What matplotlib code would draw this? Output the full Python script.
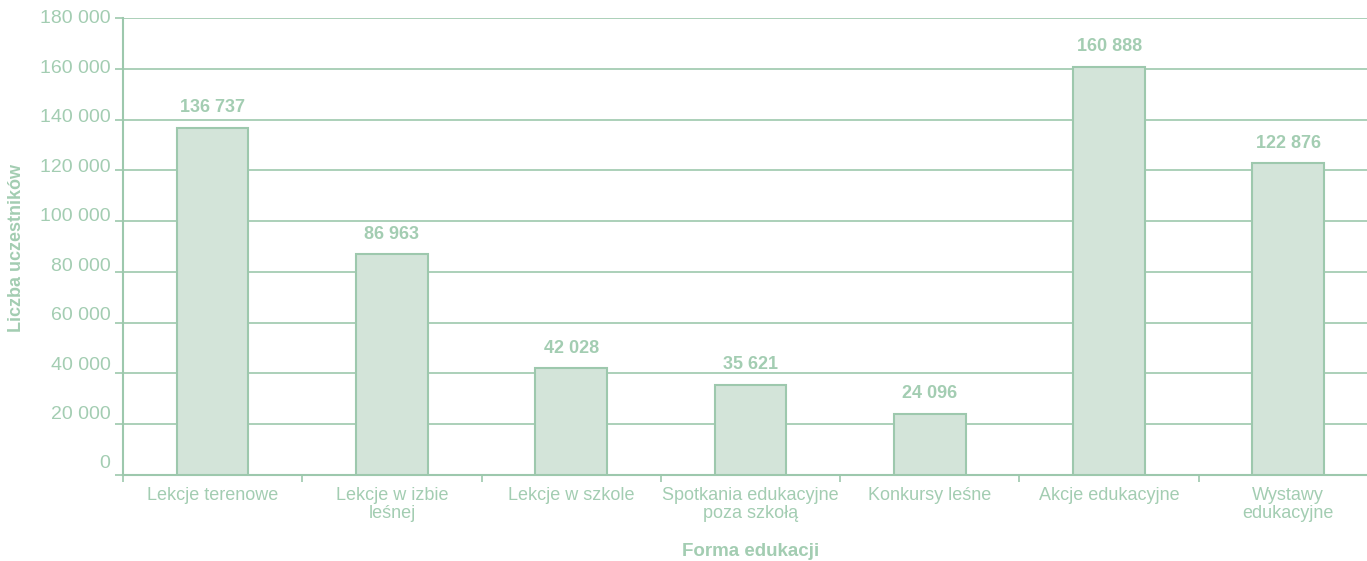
import matplotlib.pyplot as plt
import matplotlib.transforms as mtransforms
import numpy as np

categories = ["Lekcje terenowe", "Lekcje w izbie\nleśnej", "Lekcje w szkole",
              "Spotkania edukacyjne\npoza szkołą", "Konkursy leśne",
              "Akcje edukacyjne", "Wystawy\nedukacyjne"]
values = [136737, 86963, 42028, 35621, 24096, 160888, 122876]
yticks = [0, 20000, 40000, 60000, 80000, 100000, 120000, 140000, 160000, 180000]

green = "#9dc8ad"
text_green = "#a3cdb2"
fill = "#d3e4d9"

plt.rcParams['font.family'] = ['Liberation Sans', 'DejaVu Sans']

fig = plt.figure(figsize=(13.67, 5.61), dpi=100)
# axes run past the right edge, like the cropped original
ax = fig.add_axes([123 / 1367, 1 - 475 / 561, (1378 - 123) / 1367, (475 - 18) / 561])

x = np.arange(len(categories))
ax.bar(x, values, width=0.4, color=fill, edgecolor=green, linewidth=1.5, zorder=3)

for xi, v in zip(x, values):
    ax.text(xi, v + 4500, f"{v:,}".replace(",", " "), ha="center", va="bottom",
            fontsize=13, fontweight="bold", color=text_green)

ax.set_xlim(-0.5, len(categories) - 0.5)
ax.set_ylim(0, 180000)
ax.set_yticks(yticks)
ax.set_yticklabels([f"{t:,}".replace(",", " ") for t in yticks])
ax.yaxis.grid(True, color=green, linewidth=1.2, zorder=0)

ax.set_xticks(x)
ax.set_xticklabels(categories, linespacing=1.05)
ax.set_xticks(np.arange(len(categories) + 1) - 0.5, minor=True)
ax.tick_params(axis="x", which="major", length=0, pad=9, labelsize=13, labelcolor=text_green)
ax.tick_params(axis="x", which="minor", length=5, width=1.2, color=green)
ax.tick_params(axis="y", length=6, width=1.2, color=green, pad=3, labelsize=14,
               labelcolor=text_green)

# in the original the y labels drift upward from their gridlines toward the bottom
n = len(yticks)
for i, lab in enumerate(ax.get_yticklabels()):
    off = (13 - i * 12 / (n - 1)) / 100
    lab.set_transform(lab.get_transform() + mtransforms.ScaledTranslation(0, off, fig.dpi_scale_trans))

for s in ["top", "right"]:
    ax.spines[s].set_visible(False)
for s in ["left", "bottom"]:
    ax.spines[s].set_color(green)
    ax.spines[s].set_linewidth(1.5)

fig.text(17 / 1367, 1 - 248 / 561, "Liczba uczestników", rotation=90, ha="center", va="center",
         fontsize=13, fontweight="bold", color=text_green)
fig.text(751 / 1367, 1 - 551 / 561, "Forma edukacji", ha="center", va="center",
         fontsize=13.5, fontweight="bold", color=text_green)

fig.savefig("out.png", dpi=100)
